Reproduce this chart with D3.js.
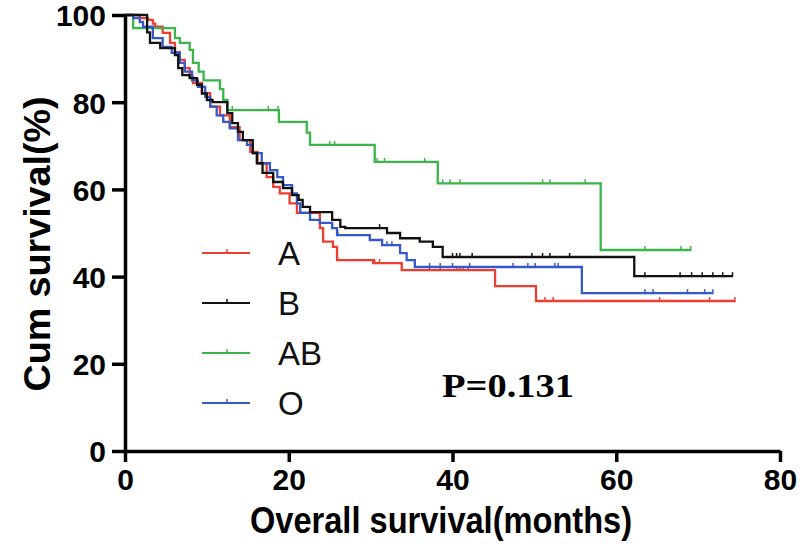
<!DOCTYPE html>
<html>
<head>
<meta charset="utf-8">
<script src="https://cdn.jsdelivr.net/npm/d3@7"></script>
<style>
  body { margin: 0; background: #fff; }
</style>
</head>
<body>
<div id="chart"></div>
<script>
var groups = ['A', 'B', 'AB', 'O'];
var colors = ['#ee3e32', '#111111', '#3bb54a', '#3559c6'];

// step change points [month, survival %]
var stepsA = [[0,100],[1.8,99.3],[2.8,98.9],[3.4,98],[3.7,97.3],[4.6,95.9],[5.5,93.6],[6.1,91.5],[6.7,89.7],[7.3,87.8],[7.9,85.8],[8.3,84.4],[9.4,82.1],[10.4,79],[11.6,77],[12.8,74.3],[14,71.3],[15.3,68.6],[16.2,66],[17.3,62.8],[18.1,60.6],[18.9,59.1],[20.1,56.8],[21,54.6],[23.8,51.1],[24.2,48],[25.4,46.8],[25.9,43.8],[30.3,43.1],[33.8,41.5],[45.2,37.8],[50.2,34.4]];
var stepsB = [[0,100],[2.7,96],[3.05,93.6],[4.3,92.4],[6.1,90.8],[6.5,87.8],[7,86.2],[7.9,85.5],[8.8,84],[9.4,82],[10,80.5],[10.7,80],[12.5,77.5],[13.1,75.2],[13.8,73.2],[14.4,71.3],[15.6,68.3],[16.1,66],[16.8,63.8],[18.1,61.7],[19.3,60.3],[20.4,58.7],[21.2,57.6],[21.7,56],[22.6,54.8],[25.3,53],[26.3,51.4],[26.9,51.1],[32,50],[33.6,48.8],[36,48],[37.6,46.8],[38.8,44.5],[62.2,40.1]];
var stepsAB = [[0,100],[1,97],[6.1,94.7],[6.7,93.6],[7.9,92],[8.3,89],[9,87],[9.6,85],[11.6,83],[12,80.5],[12.5,78.2],[18.8,75.5],[22.2,73],[22.6,70.2],[30.5,66.3],[38.2,61.4],[58.1,46.1]];
var stepsO = [[0,100],[1,99.3],[1.8,98.4],[2.2,97.3],[3.4,94.7],[4.6,92.7],[5.7,91.3],[6.7,89],[7.3,87],[8.2,85],[8.9,83.5],[9.8,81.2],[10.4,79],[11.2,77],[12,75.5],[12.8,74],[13.8,71.3],[14.9,70.2],[15.6,68.3],[16.7,66],[17.7,64.4],[18.6,62.8],[19.3,61],[20.4,59.1],[21,56.8],[21.4,54.6],[22.6,53],[23.8,52.3],[25.3,51.1],[25.9,49.5],[29.9,48.4],[31.4,47.2],[33.6,45.4],[34.4,43.8],[35.4,42.2],[55.8,36.2]];

// last follow-up month of each group
var ends = [74.5, 74.2, 69.1, 71.8];

// censored times (months)
var censA = [30.5,31.1,37.2,38.5,40.5,40.9,41.3,41.9,51.3,52.3,65.3,71.4,74.5];
var censB = [31.1,40,40.5,40.9,42.4,49.7,51,51.9,54.3,63.5,67.8,69.2,70.5,71.8,73,74.2];
var censAB = [13.1,17.5,18.7,25,25.6,30.8,31.7,36.6,38.8,39.7,40.9,51,51.9,56.2,63.5,67.9,69.1];
var censO = [26,32,32.6,37.2,38.5,40,42.1,47.4,49.2,50.1,52.5,52.9,63.5,64.5,68.7,70.8,71.8];

var xTicks = [0, 20, 40, 60, 80];
var yTicks = [0, 20, 40, 60, 80, 100];
var pText = 'P=0.131';

var allSteps = [stepsA, stepsB, stepsAB, stepsO];
var allCens = [censA, censB, censAB, censO];

var width = 800, height = 557;
var x = d3.scaleLinear().domain([0, 80]).range([125, 780]);
var y = d3.scaleLinear().domain([0, 100]).range([451, 15]);

var svg = d3.select('#chart').append('svg')
  .attr('width', width)
  .attr('height', height);

var boldFont = '"Liberation Sans", Arial, sans-serif';

// survival value at time t for a step list
function survAt(steps, t) {
  var v = steps[0][1];
  steps.forEach(function(s) { if (s[0] <= t) v = s[1]; });
  return v;
}

var line = d3.line()
  .x(function(d) { return x(d[0]); })
  .y(function(d) { return y(d[1]); })
  .curve(d3.curveStepAfter);

// curves, drawn so black/blue sit on top like the original
[0, 2, 3, 1].forEach(function(i) {
  var steps = allSteps[i];
  var pts = steps.concat([[ends[i], steps[steps.length - 1][1]]]);
  svg.append('path')
    .attr('d', line(pts))
    .attr('fill', 'none')
    .attr('stroke', colors[i])
    .attr('stroke-width', 2.3);

  svg.append('g').selectAll('line')
    .data(allCens[i])
    .enter().append('line')
    .attr('x1', function(d) { return x(d); })
    .attr('x2', function(d) { return x(d); })
    .attr('y1', function(d) { return y(survAt(steps, d)) - 4; })
    .attr('y2', function(d) { return y(survAt(steps, d)) + 1; })
    .attr('stroke', colors[i])
    .attr('stroke-width', 1.5);
});

// axes
var yAxis = svg.append('g')
  .attr('transform', 'translate(125,0)')
  .call(d3.axisLeft(y).tickValues(yTicks).tickSize(13).tickSizeOuter(0).tickPadding(6));

var xAxis = svg.append('g')
  .attr('transform', 'translate(0,451)')
  .call(d3.axisBottom(x).tickValues(xTicks).tickSize(11).tickSizeOuter(0).tickPadding(7));

[yAxis, xAxis].forEach(function(ax) {
  ax.select('.domain').attr('stroke', '#000').attr('stroke-width', 3.5);
  ax.selectAll('.tick line').attr('stroke', '#000').attr('stroke-width', 3.5);
  ax.selectAll('.tick text')
    .attr('fill', '#000')
    .style('font-family', boldFont)
    .style('font-weight', 'bold')
    .style('font-size', '30px');
});
yAxis.selectAll('.tick text').attr('dy', '0.36em');

// axis titles, squeezed like the condensed face of the original
svg.append('text')
  .attr('x', 441)
  .attr('y', 533)
  .attr('text-anchor', 'middle')
  .attr('textLength', 382)
  .attr('lengthAdjust', 'spacingAndGlyphs')
  .style('font-family', boldFont)
  .style('font-weight', 'bold')
  .style('font-size', '36px')
  .text('Overall survival(months)');

svg.append('text')
  .attr('transform', 'translate(50,244) rotate(-90)')
  .attr('text-anchor', 'middle')
  .attr('textLength', 295)
  .attr('lengthAdjust', 'spacingAndGlyphs')
  .style('font-family', boldFont)
  .style('font-weight', 'bold')
  .style('font-size', '36px')
  .text('Cum survival(%)');

// legend
var legend = svg.append('g');
groups.forEach(function(name, i) {
  var ly = 253 + i * 50;
  legend.append('line')
    .attr('x1', 202).attr('x2', 250)
    .attr('y1', ly).attr('y2', ly)
    .attr('stroke', colors[i])
    .attr('stroke-width', 2);
  legend.append('line')
    .attr('x1', 227).attr('x2', 227)
    .attr('y1', ly - 4).attr('y2', ly + 1)
    .attr('stroke', colors[i])
    .attr('stroke-width', 1.5);
  legend.append('text')
    .attr('x', 278)
    .attr('y', ly + 12)
    .style('font-family', '"Liberation Sans", Arial, sans-serif')
    .style('font-size', '33px')
    .attr('fill', '#111')
    .text(name);
});

svg.append('text')
  .attr('x', 442)
  .attr('y', 397)
  .attr('textLength', 132)
  .attr('lengthAdjust', 'spacingAndGlyphs')
  .style('font-family', '"Liberation Serif", "Times New Roman", serif')
  .style('font-weight', 'bold')
  .style('font-size', '34px')
  .attr('fill', '#000')
  .text(pText);
</script>
</body>
</html>
